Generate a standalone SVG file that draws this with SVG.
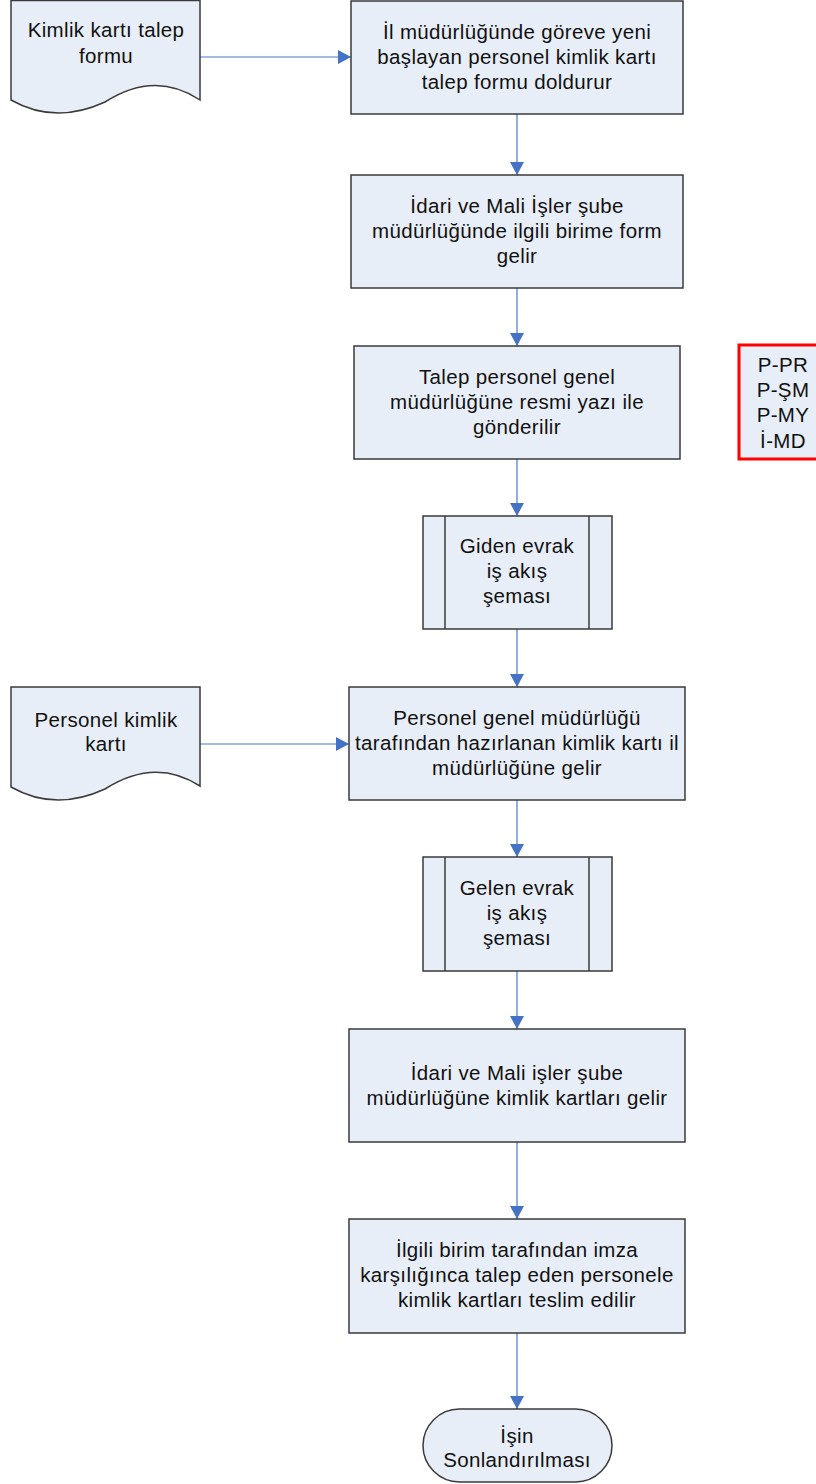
<svg xmlns="http://www.w3.org/2000/svg" width="816" height="1484" viewBox="0 0 816 1484">
<style>
.box{fill:#E8EEF7;stroke:#3a3a3a;stroke-width:1.5}
.red{fill:#E8EEF7;stroke:#FF0000;stroke-width:3}
.conn{stroke:#4A7AC4;stroke-width:1.2;fill:none;marker-end:url(#arr)}
text{font-family:"Liberation Sans",Arial,sans-serif;font-size:20.5px;letter-spacing:0.35px;fill:#111;text-anchor:middle}
</style>
<defs>
<marker id="arr" viewBox="0 0 13 14" refX="13" refY="7" markerWidth="13" markerHeight="14" markerUnits="userSpaceOnUse" orient="auto">
<path d="M0,0 L13,7 L0,14 Z" fill="#4472C4"/>
</marker>
</defs>
<rect width="816" height="1484" fill="#fff"/>
<g id="connectors">
<line class="conn" x1="200" y1="57" x2="351" y2="57"/>
<line class="conn" x1="517" y1="114" x2="517" y2="175"/>
<line class="conn" x1="517" y1="288" x2="517" y2="346"/>
<line class="conn" x1="517" y1="459" x2="517" y2="516"/>
<line class="conn" x1="517" y1="629" x2="517" y2="687"/>
<line class="conn" x1="200" y1="744" x2="349" y2="744"/>
<line class="conn" x1="517" y1="800" x2="517" y2="857"/>
<line class="conn" x1="517" y1="971" x2="517" y2="1029"/>
<line class="conn" x1="517" y1="1142" x2="517" y2="1219"/>
<line class="conn" x1="517" y1="1333" x2="517" y2="1409"/>
</g>
<g id="doc1">
<path class="box" d="M11,0.5 H200 V100 Q155,70 105,102 Q55,125 11,100 Z"/>
<text x="106" y="37">Kimlik kartı talep</text>
<text x="106" y="63">formu</text>
</g>
<g id="n1">
<rect class="box" x="351" y="1" width="332" height="113"/>
<text x="517" y="39">İl müdürlüğünde göreve yeni</text>
<text x="517" y="64">başlayan personel kimlik kartı</text>
<text x="517" y="89">talep formu doldurur</text>
</g>
<g id="n2">
<rect class="box" x="351" y="175" width="332" height="113"/>
<text x="517" y="213">İdari ve Mali İşler şube</text>
<text x="517" y="238">müdürlüğünde ilgili birime form</text>
<text x="517" y="263">gelir</text>
</g>
<g id="n3">
<rect class="box" x="354" y="346" width="326" height="113"/>
<text x="517" y="384">Talep personel genel</text>
<text x="517" y="409">müdürlüğüne resmi yazı ile</text>
<text x="517" y="434">gönderilir</text>
</g>
<g id="codes">
<rect class="red" x="739" y="345" width="90" height="114"/>
<text x="783" y="372">P-PR</text>
<text x="783" y="397">P-ŞM</text>
<text x="783" y="422">P-MY</text>
<text x="783" y="448">İ-MD</text>
</g>
<g id="giden">
<rect class="box" x="423" y="516" width="189" height="113"/>
<line x1="445" y1="516" x2="445" y2="629" stroke="#3a3a3a" stroke-width="1.5"/>
<line x1="589" y1="516" x2="589" y2="629" stroke="#3a3a3a" stroke-width="1.5"/>
<text x="517" y="553">Giden evrak</text>
<text x="517" y="578">iş akış</text>
<text x="517" y="603">şeması</text>
</g>
<g id="doc2">
<path class="box" d="M11,687 H200 V786 Q155,757 105,789 Q55,812 11,787 Z"/>
<text x="106" y="727">Personel kimlik</text>
<text x="106" y="751">kartı</text>
</g>
<g id="n5">
<rect class="box" x="349" y="687" width="336" height="113"/>
<text x="517" y="725">Personel genel müdürlüğü</text>
<text x="517" y="750">tarafından hazırlanan kimlik kartı il</text>
<text x="517" y="775">müdürlüğüne gelir</text>
</g>
<g id="gelen">
<rect class="box" x="423" y="857" width="189" height="114"/>
<line x1="445" y1="857" x2="445" y2="971" stroke="#3a3a3a" stroke-width="1.5"/>
<line x1="589" y1="857" x2="589" y2="971" stroke="#3a3a3a" stroke-width="1.5"/>
<text x="517" y="895">Gelen evrak</text>
<text x="517" y="920">iş akış</text>
<text x="517" y="945">şeması</text>
</g>
<g id="n6">
<rect class="box" x="349" y="1029" width="336" height="113"/>
<text x="517" y="1080">İdari ve Mali işler şube</text>
<text x="517" y="1105">müdürlüğüne kimlik kartları gelir</text>
</g>
<g id="n7">
<rect class="box" x="349" y="1219" width="336" height="114"/>
<text x="517" y="1257">İlgili birim tarafından imza</text>
<text x="517" y="1282">karşılığınca talep eden personele</text>
<text x="517" y="1307">kimlik kartları teslim edilir</text>
</g>
<g id="end">
<rect class="box" x="423" y="1409" width="189" height="73" rx="36.5" ry="36.5"/>
<text x="517" y="1443">İşin</text>
<text x="517" y="1467">Sonlandırılması</text>
</g>
</svg>
